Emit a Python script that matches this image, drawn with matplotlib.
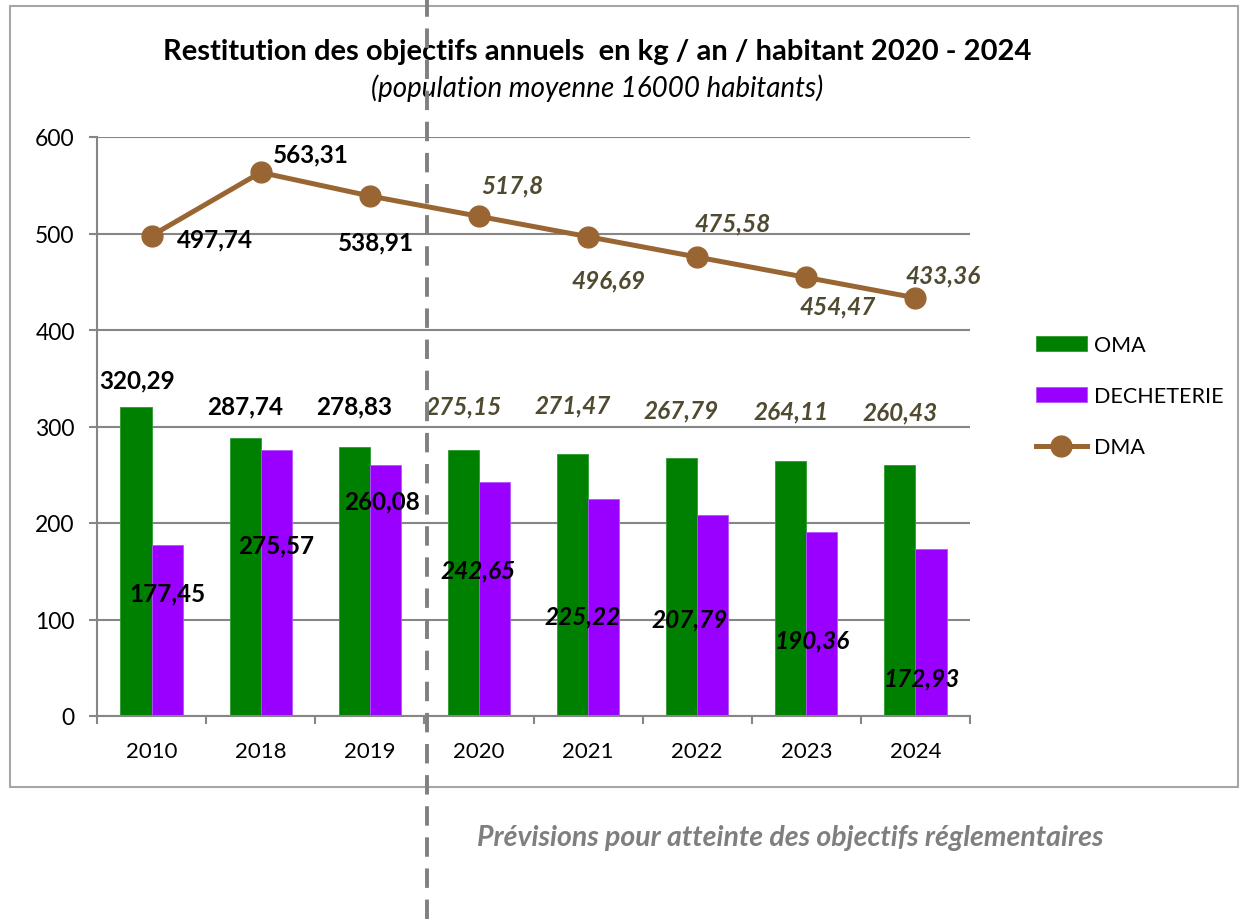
import matplotlib
matplotlib.use('Agg')
import matplotlib.pyplot as plt
import numpy as np
from matplotlib.lines import Line2D
from matplotlib.patches import Rectangle

# Data
years = ['2010', '2018', '2019', '2020', '2021', '2022', '2023', '2024']
oma = [320.29, 287.74, 278.83, 275.15, 271.47, 267.79, 264.11, 260.43]
decheterie = [177.45, 275.57, 260.08, 242.65, 225.22, 207.79, 190.36, 172.93]
dma = [497.74, 563.31, 538.91, 517.8, 496.69, 475.58, 454.47, 433.36]
oma_txt = ['320,29', '287,74', '278,83', '275,15', '271,47', '267,79', '264,11', '260,43']
dech_txt = ['177,45', '275,57', '260,08', '242,65', '225,22', '207,79', '190,36', '172,93']
dma_txt = ['497,74', '563,31', '538,91', '517,8', '496,69', '475,58', '454,47', '433,36']
n_hist = 3  # 2010, 2018, 2019 are measured, the rest are forecasts

# label offsets in pixels (dx, dy) from the mark
oma_off = [(1, 27), (0, 32), (0, 41), (0, 45), (0, 49), (0, 48), (0, 50), (0, 53)]
dech_off = [(0, -48), (0, -95), (-3, -36), (-16, -88), (-21, -117), (-23, -103), (-10, -108), (-9, -129)]
dma_off = [(63, -3), (50, 18), (6, -46), (33, 31), (20, -43), (35, 34), (31, -28), (28, 23)]

GREEN = '#008000'
PURPLE = '#9900ff'
BROWN = '#996633'
OLIVE = '#4f4a30'
GRAY = '#868686'

plt.rcParams['font.family'] = ['Lato', 'DejaVu Sans']

W, H = 1246, 920
fig = plt.figure(figsize=(W / 100, H / 100), dpi=100)

# chart frame
fig.patches.append(Rectangle((10 / W, 1 - 788 / H), 1228 / W, 781 / H,
                             transform=fig.transFigure, fill=False,
                             edgecolor='#a6a6a6', linewidth=1.5, zorder=0))

ax = fig.add_axes([97 / W, 1 - 717 / H, 873 / W, 579 / H])
x = np.arange(len(years))
bw = 0.285
b1 = ax.bar(x - bw / 2, oma, bw, color=GREEN, edgecolor='#2e9a2e', linewidth=0.6, zorder=2, label='OMA')
b2 = ax.bar(x + bw / 2, decheterie, bw, color=PURPLE, edgecolor='#b455ff', linewidth=0.6, zorder=2, label='DECHETERIE')
ln, = ax.plot(x, dma, color=BROWN, linewidth=3.6, marker='o', markersize=15, zorder=4, label='DMA')

ax.set_xlim(-0.5, len(years) - 0.5)
ax.set_ylim(0, 600)
ax.set_yticks(range(0, 601, 100))
ax.set_xticks(x)
ax.set_xticklabels(years)
ax.set_xticks(np.arange(-0.5, len(years)), minor=True)
ax.tick_params(axis='x', which='major', length=0, pad=18, labelsize=16)
ax.tick_params(axis='x', which='minor', length=6, width=1.5, color=GRAY, direction='out')
ax.tick_params(axis='y', length=6, width=1.5, color=GRAY, pad=10, labelsize=16.5)
ax.grid(axis='y', color=GRAY, linewidth=1.5, zorder=0)
ax.set_axisbelow(True)
for s in ['top', 'right']:
    ax.spines[s].set_visible(False)
for s in ['left', 'bottom']:
    ax.spines[s].set_color(GRAY)
    ax.spines[s].set_linewidth(1.5)

def label(xv, yv, txt, off, hist, color_fore):
    ax.annotate(txt, (xv, yv), xytext=off, textcoords='offset pixels',
                ha='center', va='center', fontsize=17.5, fontweight='bold',
                style='normal' if hist else 'italic',
                color='black' if hist else color_fore, zorder=5)

for i in range(len(years)):
    hist = i < n_hist
    label(x[i] - bw / 2, oma[i], oma_txt[i], oma_off[i], hist, OLIVE)
    label(x[i] + bw / 2, decheterie[i], dech_txt[i], dech_off[i], hist, 'black')
    label(x[i], dma[i], dma_txt[i], dma_off[i], hist, OLIVE)

ax.legend(handles=[b1, b2, ln], loc='center left',
          bbox_to_anchor=(1027 / W, 1 - 397 / H), bbox_transform=fig.transFigure,
          frameon=False, fontsize=15.5, handlelength=2.4, handletextpad=0.3,
          labelspacing=1.45, borderaxespad=0)

fig.text(597 / W, 1 - 52 / H, 'Restitution des objectifs annuels  en kg / an / habitant 2020 - 2024',
         ha='center', va='center', fontsize=21, fontweight='bold')
fig.text(597 / W, 1 - 88 / H, '(population moyenne 16000 habitants)',
         ha='center', va='center', fontsize=20, style='italic')
fig.text(790 / W, 1 - 838 / H, 'Prévisions pour atteinte des objectifs réglementaires',
         ha='center', va='center', fontsize=20.5, fontweight='bold', style='italic', color='#7f7f7f')

# separator between measured and forecast years
fig.lines.append(Line2D([427 / W, 427 / W], [0, 1], transform=fig.transFigure,
                        color='#808080', linewidth=2.8, linestyle=(0, (5, 3)), zorder=10))

fig.savefig('out.png', dpi=100)
